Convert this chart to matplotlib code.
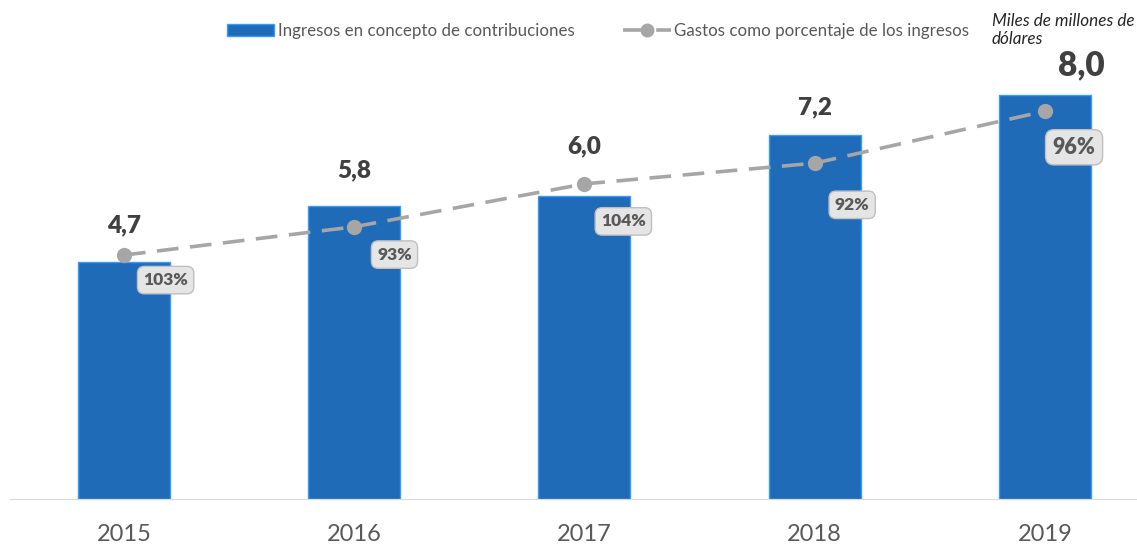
import matplotlib.pyplot as plt
from matplotlib.patches import Patch
from matplotlib.lines import Line2D

plt.rcParams['font.family'] = ['Lato', 'DejaVu Sans']

anios = ['2015', '2016', '2017', '2018', '2019']
ingresos = [4.7, 5.8, 6.0, 7.2, 8.0]
etiquetas_ingresos = ['4,7', '5,8', '6,0', '7,2', '8,0']
# posicion de la linea (misma escala que las barras)
linea_gastos = [4.83, 5.39, 6.24, 6.65, 7.68]
etiquetas_gastos = ['103%', '93%', '104%', '92%', '96%']

azul = '#1F6BB8'
gris_linea = '#A6A6A6'
gris_texto = '#595959'

fig = plt.figure(figsize=(11.37, 5.48), dpi=100)
ax = fig.add_axes([10/1137, 1 - 499/548, 1127/1137, (499 - 21)/548])

x = range(len(anios))
ax.bar(x, ingresos, width=0.4, color=azul, edgecolor='#3A9BFF', linewidth=1, zorder=2)
ax.plot(x, linea_gastos, color=gris_linea, lw=2.6, dashes=(6, 3.2),
        marker='o', markersize=11, markeredgewidth=0, zorder=3)

ax.set_xlim(-0.495, 4.4)
ax.set_ylim(0, (499 - 21) / 50.5)

# etiquetas de barras (desplazamiento en puntos, linea base)
offs_bar = [(0, 21), (0, 21), (0, 31), (0, 15), (26, 14)]
sizes_bar = [17.5, 17.5, 17.5, 17.5, 24]
for i, v in enumerate(ingresos):
    ax.annotate(etiquetas_ingresos[i], (i, v), xytext=offs_bar[i], textcoords='offset points',
                ha='center', va='baseline', fontsize=sizes_bar[i], fontweight='heavy', color='#404040')

# etiquetas de porcentaje
offs_pct = [(30, -18), (29, -20), (28, -27), (27, -30), (21, -26)]
sizes_pct = [12.5, 12.5, 12.5, 12.5, 15.5]
for i, v in enumerate(linea_gastos):
    ax.annotate(etiquetas_gastos[i], (i, v), xytext=offs_pct[i], textcoords='offset points',
                ha='center', va='center', fontsize=sizes_pct[i], fontweight='heavy', color=gris_texto,
                bbox=dict(boxstyle='round,pad=0.33,rounding_size=0.4', fc='#E5E5E5', ec='#BFBFBF', lw=1),
                zorder=4)

ax.set_xticks(list(x))
ax.set_xticklabels(anios, fontsize=17, color=gris_texto)
ax.tick_params(axis='x', length=0, pad=18)
ax.set_yticks([])
for s in ['top', 'right', 'left']:
    ax.spines[s].set_visible(False)
ax.spines['bottom'].set_color('#D9D9D9')

handles = [Patch(facecolor=azul, edgecolor='#3A9BFF'),
           Line2D([0], [0], color=gris_linea, lw=2.6, dashes=(6, 3.2), marker='o', markersize=9)]
fig.legend(handles, ['Ingresos en concepto de contribuciones', 'Gastos como porcentaje de los ingresos'],
           loc='center', bbox_to_anchor=(598/1137, 1 - 31/548), ncol=2, frameon=False,
           fontsize=12.2, labelcolor=gris_texto, handlelength=2.8, handletextpad=0.2, columnspacing=2.9)

fig.text(992/1137, 1 - 30/548, 'Miles de millones de\ndólares', fontsize=12.3, style='italic',
         color='#262626', va='center', ha='left', linespacing=1.15)

fig.savefig('out.png', dpi=100)
